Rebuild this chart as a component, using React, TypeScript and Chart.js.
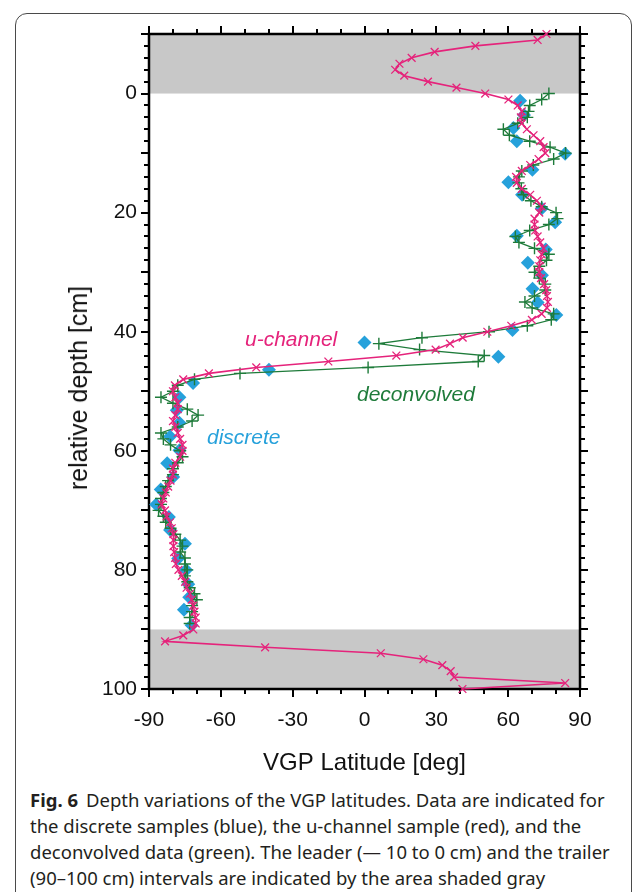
import React, { useEffect, useRef } from "react";
import { Chart, registerables } from "chart.js";

Chart.register(...registerables);

// ---- data ----
const uDepth = [
  -10, -9, -8, -7, -6, -5, -4, -3, -2, -1, 0, 1, 2, 3, 4, 5, 6, 7, 8, 9, 10,
  11, 12, 13, 14, 15, 16, 17, 18, 19, 20, 21, 22, 23, 24, 25, 26, 27, 28, 29, 30,
  31, 32, 33, 34, 35, 36, 37, 38, 39, 40, 41, 42, 43, 44, 45, 46, 47, 48, 49, 50,
  51, 52, 53, 54, 55, 56, 57, 58, 59, 60, 61, 62, 63, 64, 65, 66, 67, 68, 69, 70,
  71, 72, 73, 74, 75, 76, 77, 78, 79, 80, 81, 82, 83, 84, 85, 86, 87, 88, 89, 90,
  91, 92, 93, 94, 95, 96, 97, 98, 99, 100,
];
const uLat = [
  76, 72.3, 46.3, 29.3, 19.7, 14.6, 12.8, 16.6, 26.5, 38.4, 50.4, 60.1, 64, 65.7,
  65.3, 65.7, 67.8, 70.6, 73.4, 74.8, 75.5, 72.7, 69.2, 65.7, 63.3, 63.6, 65.7,
  69.2, 72, 74, 73, 71, 71, 71.3, 72.3, 73.4, 74.8, 74, 73.4, 73, 73, 73.7, 75,
  75.9, 76.2, 76.6, 76.2, 74, 69.9, 61.3, 51.3, 41, 35.7, 29.7, 13.3, -15.1,
  -45.2, -65, -75.7, -79.2, -80, -79, -78, -78, -79, -80, -79, -78, -77, -76,
  -76, -77, -79, -80, -80, -81, -82, -83, -84, -84.7, -83.3, -82.6, -81.2,
  -80.5, -79.8, -79.8, -79.8, -79.5, -79.1, -78.8, -77.7, -76.3, -74.9, -74.3,
  -72.9, -72.2, -71.5, -71, -70.5, -70.5, -71.5, -75.7, -83.3, -41.5, 6.8, 24.6,
  32.5, 36, 37.4, 83.8, 40.9,
];

const dDepth = [
  0, 1, 2, 3, 4, 5, 6, 7, 8, 9, 10, 11, 12, 13, 14, 15, 16, 17, 18, 19, 20, 21,
  22, 23, 24, 25, 26, 27, 28, 29, 30, 31, 32, 33, 34, 35, 36, 37, 38, 39, 40, 41,
  42, 43, 44, 45, 46, 47, 48, 49, 50, 51, 52, 53, 54, 55, 56, 57, 58, 59, 60, 61,
  62, 63, 64, 65, 66, 67, 68, 69, 70, 71, 72, 73, 74, 75, 76, 77, 78, 79, 80, 81,
  82, 83, 84, 85, 86, 87, 88, 89,
];
const dLat = [
  77, 74, 69, 68.5, 68, 64, 58, 60.5, 69, 77.5, 84, 79, 70.5, 65.7, 64.5, 64.3,
  65.5, 66.4, 69.5, 74, 80, 80.6, 77, 69, 63, 64.5, 71, 77, 76, 73, 71, 73, 75.5,
  75.5, 71, 67, 70, 79, 78, 68, 52, 24, 6, 23, 50, 47.5, 1.5, -52, -71, -78, -80,
  -85, -80, -74, -69.5, -72, -78, -85, -84, -81, -77, -76, -78, -80, -80, -82,
  -83, -84, -85, -85, -86, -84, -83, -81, -79, -77, -76, -77, -75, -75, -74, -75,
  -74, -73, -71, -70, -72, -72, -73, -73,
];

const sDepth = [
  1.2, 3.6, 5.8, 8, 10.1, 12.8, 14.9, 17, 19.3, 21.6, 23.9, 26.2, 28.4, 30.5,
  32.8, 35.1, 37.2, 39.7, 41.8, 44.2, 46.4, 48.6, 51, 53.2, 55.3, 57.6, 59.9,
  62.1, 64.4, 66.5, 69, 71.1, 73.3, 75.6, 78.1, 80, 82.4, 84.6, 86.7, 89.3,
];
const sLat = [
  65, 66.6, 62.2, 63.6, 83.8, 70.1, 60.1, 65.8, 74, 79.6, 63.6, 75.7, 68.2, 74.1,
  70.2, 72.3, 80.1, 61.8, 0, 55.9, -39.9, -71.6, -77.3, -78.4, -77.3, -81.2,
  -77.3, -82.4, -79.9, -85.1, -87, -81.7, -81.2, -75, -77.8, -74.5, -73.6, -73.2,
  -75.4, -72.2,
];

const xTickLabels = [-90, -60, -30, 0, 30, 60, 90];
const yTickLabels = [0, 20, 40, 60, 80, 100];
const xMinorStep = 10;
const yMajorStep = 10;
const yMinorStep = 2;
const xRange = [-90, 90];
const yRange = [-10, 100];
const shadedIntervals = [
  [-10, 0],
  [90, 100],
];

const MAGENTA = "#e5237b";
const GREEN = "#1e7b3a";
const BLUE = "#26a1db";
const FONT = "'Liberation Sans', Arial, Helvetica, sans-serif";

const toPts = (xs: number[], ys: number[]) => xs.map((v, i) => ({ x: v, y: ys[i] }));

const framePlugin = {
  id: "frameTicks",
  beforeDatasetsDraw(chart: any) {
    const { ctx, chartArea: a, scales } = chart;
    const x = scales.x;
    const y = scales.y;
    ctx.save();
    ctx.fillStyle = "#c8c8c8";
    for (const [d0, d1] of shadedIntervals) {
      const y0 = y.getPixelForValue(d0);
      const y1 = y.getPixelForValue(d1);
      ctx.fillRect(a.left, Math.min(y0, y1), a.right - a.left, Math.abs(y1 - y0));
    }
    ctx.strokeStyle = "#000";
    ctx.lineWidth = 2;
    ctx.beginPath();
    for (let v = xRange[0]; v <= xRange[1] + 1e-9; v += xMinorStep) {
      const px = Math.round(x.getPixelForValue(v));
      const major = xTickLabels.includes(v);
      const len = major ? 8 : 5;
      ctx.moveTo(px, a.bottom);
      ctx.lineTo(px, a.bottom + len);
      ctx.moveTo(px, a.top);
      ctx.lineTo(px, a.top - len);
    }
    for (let v = yRange[0]; v <= yRange[1] + 1e-9; v += yMinorStep) {
      const py = Math.round(y.getPixelForValue(v));
      const major = Math.abs(v % yMajorStep) < 1e-9;
      const len = major ? 8 : 5;
      ctx.moveTo(a.left, py);
      ctx.lineTo(a.left - len, py);
      ctx.moveTo(a.right, py);
      ctx.lineTo(a.right + len, py);
    }
    ctx.stroke();
    ctx.lineWidth = 2.5;
    ctx.strokeRect(a.left, a.top, a.right - a.left, a.bottom - a.top);
    ctx.restore();
  },
};

export default function App() {
  const ref = useRef<HTMLCanvasElement | null>(null);
  useEffect(() => {
    if (!ref.current) return;
    const chart = new Chart(ref.current, {
      type: "scatter",
      data: {
        datasets: [
          {
            label: "u-channel",
            data: toPts(uLat, uDepth),
            showLine: true,
            borderColor: MAGENTA,
            borderWidth: 1.6,
            pointStyle: "crossRot",
            pointRadius: 5.5,
            pointBorderColor: MAGENTA,
            pointBorderWidth: 1.3,
            order: 1,
            clip: false,
          } as any,
          {
            label: "deconvolved",
            data: toPts(dLat, dDepth),
            showLine: true,
            borderColor: GREEN,
            borderWidth: 1.3,
            pointStyle: "cross",
            pointRadius: 6,
            pointBorderColor: GREEN,
            pointBorderWidth: 1.4,
            order: 2,
            clip: false,
          } as any,
          {
            label: "discrete",
            data: toPts(sLat, sDepth),
            showLine: false,
            pointStyle: "rectRot",
            pointRadius: 7,
            backgroundColor: BLUE,
            pointBackgroundColor: BLUE,
            pointBorderColor: BLUE,
            pointBorderWidth: 0,
            order: 3,
            clip: false,
          } as any,
        ],
      },
      options: {
        responsive: false,
        devicePixelRatio: 1,
        animation: false,
        layout: { padding: { top: 34, right: 53, left: 0, bottom: 0 } },
        plugins: { legend: { display: false }, tooltip: { enabled: false } },
        scales: {
          x: {
            type: "linear",
            min: xRange[0],
            max: xRange[1],
            afterBuildTicks: (s: any) => {
              s.ticks = xTickLabels.map((v) => ({ value: v }));
            },
            afterFit: (s: any) => {
              s.height = 89;
            },
            grid: { display: false, drawTicks: false },
            border: { display: false },
            ticks: {
              autoSkip: false,
              maxRotation: 0,
              padding: 19,
              color: "#111",
              font: { family: FONT, size: 21 },
            },
            title: {
              display: true,
              text: "VGP Latitude [deg]",
              color: "#111",
              font: { family: FONT, size: 24 },
              padding: { top: 0, bottom: 0 },
            },
          },
          y: {
            type: "linear",
            reverse: true,
            min: yRange[0],
            max: yRange[1],
            afterBuildTicks: (s: any) => {
              s.ticks = yTickLabels.map((v) => ({ value: v }));
            },
            afterFit: (s: any) => {
              s.width = 149;
            },
            grid: { display: false, drawTicks: false },
            border: { display: false },
            ticks: {
              autoSkip: false,
              padding: 12,
              color: "#111",
              font: { family: FONT, size: 21 },
            },
            title: { display: false },
          },
        },
      },
      plugins: [framePlugin],
    });
    return () => chart.destroy();
  }, []);

  const lbl = (color: string, left: number, top: number): React.CSSProperties => ({
    position: "absolute",
    left,
    top,
    color,
    fontFamily: FONT,
    fontStyle: "italic",
    fontSize: 21,
    lineHeight: "24px",
    whiteSpace: "nowrap",
  });
  const cap: React.CSSProperties = {
    position: "absolute",
    left: 30,
    fontFamily: "'Noto Sans', 'Open Sans', sans-serif",
    fontSize: 18.5,
    lineHeight: "26px",
    color: "#231f20",
    whiteSpace: "nowrap",
  };

  return (
    <div
      style={{
        position: "absolute",
        left: 0,
        top: 0,
        width: 633,
        height: 892,
        overflow: "hidden",
        background: "#fff",
      }}
    >
      <div
        style={{
          position: "absolute",
          left: 15,
          top: 13,
          width: 615,
          height: 900,
          border: "1px solid #4a4a4a",
          borderRadius: 12,
        }}
      />
      <canvas
        ref={ref}
        width={633}
        height={778}
        style={{ position: "absolute", left: 0, top: 0, width: 633, height: 778 }}
      />
      <div
        style={{
          position: "absolute",
          left: 78,
          top: 388,
          transform: "translate(-50%, -50%) rotate(-90deg)",
          fontFamily: FONT,
          fontSize: 25,
          lineHeight: "28px",
          color: "#111",
          whiteSpace: "nowrap",
        }}
      >
        relative depth [cm]
      </div>
      <div style={lbl(MAGENTA, 245, 327)}>u-channel</div>
      <div style={lbl(GREEN, 357, 382)}>deconvolved</div>
      <div style={lbl(BLUE, 207, 425)}>discrete</div>
      <div style={{ ...cap, top: 787 }}>
        <b style={{ marginRight: 8 }}>Fig. 6</b>Depth variations of the VGP latitudes. Data are indicated for
      </div>
      <div style={{ ...cap, top: 813 }}>
        the discrete samples (blue), the u-channel sample (red), and the
      </div>
      <div style={{ ...cap, top: 839 }}>
        deconvolved data (green). The leader (— 10 to 0 cm) and the trailer
      </div>
      <div style={{ ...cap, top: 865 }}>
        (90–100 cm) intervals are indicated by the area shaded gray
      </div>
    </div>
  );
}
